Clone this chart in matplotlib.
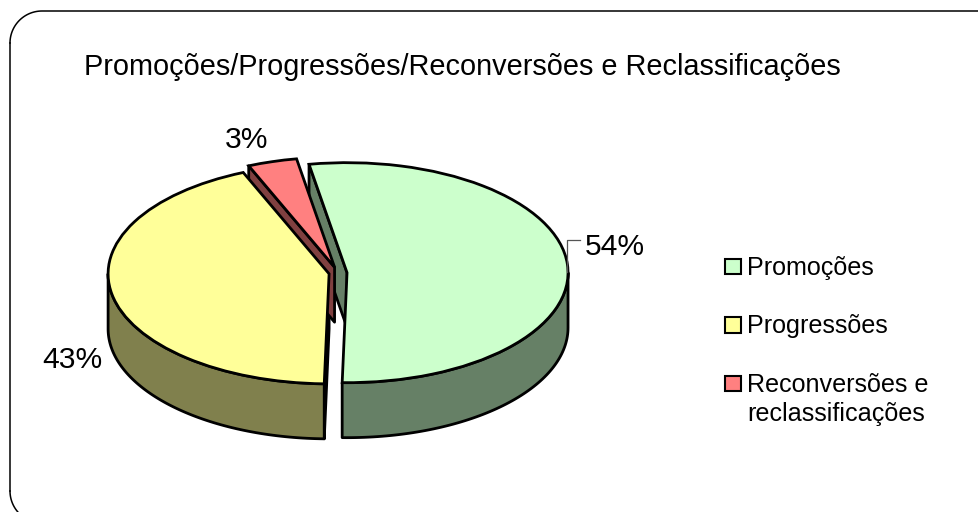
import numpy as np
import matplotlib
matplotlib.use('Agg')
import matplotlib.pyplot as plt
from matplotlib.patches import Rectangle, Polygon

plt.rcParams['font.family'] = ['Liberation Sans', 'DejaVu Sans']

# slice sizes (the printed labels are rounded differently)
categories = ['Promoções', 'Progressões', 'Reconversões e\nreclassificações']
values = [53.1, 43.3, 3.6]
percent_labels = ['54%', '43%', '3%']
explode = [0.041, 0.041, 0.055]
top_colors = ['#CCFFCC', '#FFFF99', '#FF8080']
side_colors = ['#668066', '#80804D', '#804040']
title = 'Promoções/Progressões/Reconversões e Reclassificações'

W, H = 979, 512
cx, cy = 338, 273      # pie centre in pixels
rx, ry = 221, 110      # ellipse radii in pixels
depth = 0.5            # thickness in units of ry
edge_lw = 2.0

fig = plt.figure(figsize=(W / 100, H / 100), dpi=100)
ax = fig.add_axes([0, 0, 1, 1])

wedges, _ = ax.pie(values, explode=explode, colors=top_colors, startangle=99.9,
                   counterclock=False, radius=1,
                   wedgeprops=dict(edgecolor='black', linewidth=edge_lw, zorder=5))

# squash the pie into an ellipse
ax.set_aspect('auto')
ax.set_xlim(-cx / rx, (W - cx) / rx)
ax.set_ylim((cy - H) / ry, cy / ry)


def extrude(points, color, z):
    # points run along the top edge, closed by the same edge moved down
    pts = np.array(points)
    low = pts[::-1] - [0, depth]
    ax.add_patch(Polygon(np.vstack([pts, low]), closed=True, facecolor=color,
                         edgecolor='black', linewidth=edge_lw, joinstyle='round', zorder=z))


for w, col in zip(wedges, side_colors):
    x0, y0 = w.center
    t1, t2 = w.theta1, w.theta2

    # cut face at the leading edge, only when it looks towards the viewer
    if np.sin(np.radians(t2 + 90)) < 0:
        a = np.radians(t2)
        extrude([(x0, y0), (x0 + np.cos(a), y0 + np.sin(a))], col, 2)

    # outer rim: the part of the arc on the lower half of the ellipse
    for low, high in [(-180, 0), (180, 360)]:
        s, e = max(t1, low), min(t2, high)
        if e > s:
            tt = np.radians(np.linspace(s, e, 80))
            extrude(np.column_stack([x0 + np.cos(tt), y0 + np.sin(tt)]), col, 3)

# overlay in pixel coordinates for the frame and the texts
ov = fig.add_axes([0, 0, 1, 1], facecolor='none')
ov.set_xlim(0, W)
ov.set_ylim(H, 0)
ov.axis('off')

# rounded frame, it runs off the right and bottom of the picture
r = 32
left, top, bottom = 10, 11, 523
arc = np.radians(np.linspace(180, 270, 30))
corner_x = left + r + r * np.cos(arc)
frame_x = np.concatenate([corner_x, [W + 5]])
frame_y = np.concatenate([top + r + r * np.sin(arc), [top]])
ov.plot(frame_x, frame_y, color='black', lw=1.1)
ov.plot(corner_x, bottom - r - r * np.sin(arc), color='black', lw=1.1)
ov.plot([left, left], [top + r, bottom - r], color='black', lw=1.1)

ov.text(84, 67, title, fontsize=20.8, ha='left', va='center', color='black')

# data labels
label_pos = [(585, 247), (42, 360), (225, 140)]
for txt, (x, y) in zip(percent_labels, label_pos):
    ov.text(x, y, txt, fontsize=21.6, ha='left', va='center', color='black')
ov.plot([580, 567, 567], [240, 240, 272], color='#555555', lw=0.9, zorder=1)

# legend
leg_y = 266
for name, col in zip(categories, top_colors):
    ov.add_patch(Rectangle((725.5, leg_y - 7.5), 15.5, 15.5, facecolor=col, edgecolor='black', linewidth=1.5))
    ov.text(747, leg_y - 10.5, name, fontsize=18.1, ha='left', va='top', color='black', linespacing=1.28)
    leg_y += 58.5

fig.savefig('out.png', dpi=100)
